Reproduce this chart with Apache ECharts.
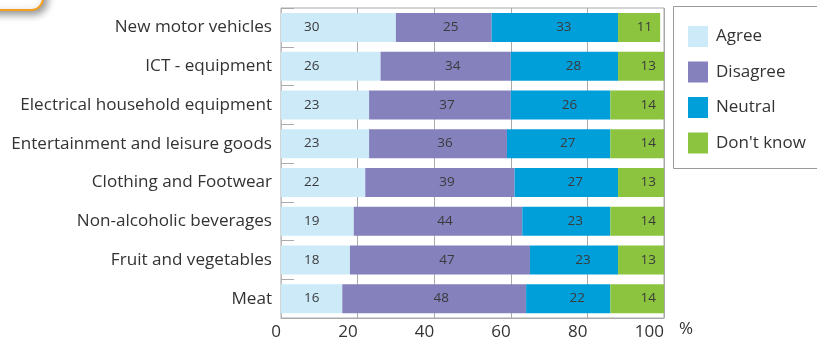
<!DOCTYPE html>
<html><head><meta charset="utf-8">
<script src="https://cdn.jsdelivr.net/npm/echarts@6/dist/echarts.min.js"></script>
<style>html,body{margin:0;padding:0;background:#fff}#c{width:817px;height:344px}</style>
</head><body><div id="c"></div>
<script>
const categories = ["New motor vehicles","ICT - equipment","Electrical household equipment","Entertainment and leisure goods","Clothing and Footwear","Non-alcoholic beverages","Fruit and vegetables","Meat"];
const agree = [30,26,23,23,22,19,18,16];
const disagree = [25,34,37,36,39,44,47,48];
const neutral = [33,28,26,27,27,23,23,22];
const dontKnow = [11,13,14,14,13,14,13,14];
const xTicks = [0,20,40,60,80,100];

const FONT = "'Open Sans', sans-serif";
const chart = echarts.init(document.getElementById('c'), null, {renderer:'canvas'});
const lbl = (pos, extra) => Object.assign({show:true, position:pos, color:'#3a3a3a', fontSize:13.5, fontFamily:FONT}, extra||{});
function mk(name, data, color, label){
  return {name, type:'bar', stack:'t', data, barWidth:29, itemStyle:{color}, label, emphasis:{disabled:true}};
}
chart.setOption({
  animation:false,
  textStyle:{fontFamily:FONT},
  grid:{left:281, right:153, top:8, bottom:26, containLabel:false, show:true, borderColor:'#aaa', borderWidth:1, backgroundColor:'transparent'},
  xAxis:{type:'value', min:0, max:100, interval:20,
    axisLine:{show:true, lineStyle:{color:'#aaa'}}, axisTick:{show:false},
    splitLine:{show:true, lineStyle:{color:'#aaa', width:1}},
    axisLabel:{color:'#333', fontSize:17, fontFamily:FONT, margin:6, align:'right',
      formatter:v=> xTicks.includes(v)? String(v):''}},
  yAxis:{type:'category', data:categories, inverse:true,
    axisLine:{show:true, lineStyle:{color:'#bbb'}},
    axisTick:{show:true, inside:true, length:13, lineStyle:{color:'#aaa'}},
    axisLabel:{color:'#333', fontSize:17.1, fontFamily:FONT, margin:9}},
  legend:{orient:'vertical', left:683, top:21, itemWidth:20, itemHeight:21, itemGap:14.5,
    icon:'rect', textStyle:{color:'#333', fontSize:17, fontFamily:FONT, padding:[0,0,0,3]},
    data:['Agree','Disagree','Neutral',"Don't know"]},
  graphic:[
    {type:'rect', shape:{x:673.5, y:6.5, width:160, height:162}, style:{fill:'none', stroke:'#9a9a9a', lineWidth:1}, z:-1},
    {type:'rect', shape:{x:-70, y:-50, width:113, height:60, r:12}, style:{fill:'#fff', stroke:'#f5a01e', lineWidth:2, shadowBlur:8, shadowColor:'rgba(0,0,0,0.45)', shadowOffsetX:3, shadowOffsetY:3}},
    {type:'text', left:679, top:321, style:{text:'%', fill:'#333', fontSize:17, fontFamily:FONT}}
  ],
  series:[
    mk('Agree', agree, '#cdeaf9', lbl('insideLeft', {distance:23})),
    mk('Disagree', disagree, '#8581bd', lbl('inside', {offset:[7,0]})),
    mk('Neutral', neutral, '#009fda', lbl('inside', {offset:[9,0]})),
    mk("Don't know", dontKnow, '#8cc43f', lbl('insideRight', {distance:8}))
  ]
});
</script></body></html>
